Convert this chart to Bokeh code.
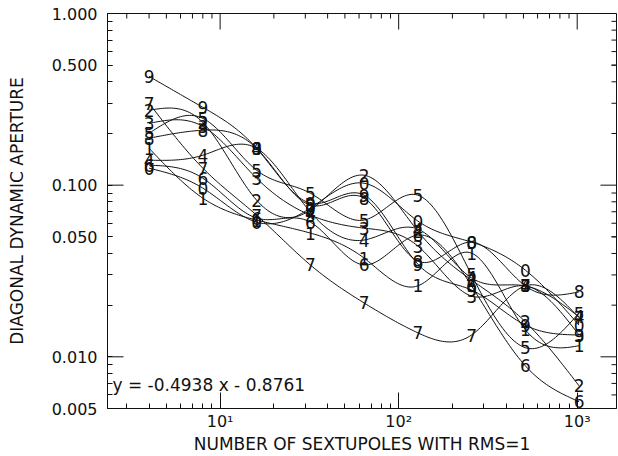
import numpy as np
from bokeh.plotting import figure
from bokeh.models import (FixedTicker, ColumnDataSource, Range1d, Label,
                          PrintfTickFormatter)
from bokeh.embed import file_html
from bokeh.resources import INLINE
from bokeh.core.properties import value

# ---- data -------------------------------------------------------------
n_sext = [4, 8, 16, 32, 64, 128, 256, 512, 1024]

s0 = [0.1256, 0.0961, 0.0609, 0.0735, 0.1027, 0.0618, 0.0466, 0.0320, 0.0153]
s1 = [0.164, 0.0840, 0.0626, 0.0526, 0.0376, 0.0259, 0.0402, 0.0144, 0.0116]
s2 = [0.273, 0.232, 0.0818, 0.0716, 0.1143, 0.0540, 0.0280, 0.0160, 0.00678]
s3 = [0.229, 0.220, 0.1098, 0.0669, 0.0562, 0.0442, 0.0226, 0.0259, 0.0134]
s4 = [0.1398, 0.1494, 0.164, 0.0697, 0.0479, 0.0555, 0.0288, 0.0259, 0.0171]
s5 = [0.2005, 0.245, 0.1222, 0.0898, 0.0626, 0.0875, 0.0300, 0.0113, 0.0180]
s6 = [0.1307, 0.1098, 0.0643, 0.0609, 0.0343, 0.0512, 0.0259, 0.00887, 0.00548]
s7 = [0.300, 0.1256, 0.0669, 0.0343, 0.0206, 0.0138, 0.0134, 0.0259, 0.0169]
s8 = [0.1877, 0.209, 0.164, 0.0765, 0.0840, 0.0361, 0.0466, 0.0259, 0.0239]
s9 = [0.430, 0.284, 0.164, 0.0786, 0.0875, 0.0347, 0.0245, 0.0153, 0.0134]

series_labels = ["0", "1", "2", "3", "4", "5", "6", "7", "8", "9"]
series_values = [s0, s1, s2, s3, s4, s5, s6, s7, s8, s9]

y_ticks = [0.005, 0.01, 0.05, 0.1, 0.5, 1.0]
y_decades = [0.01, 0.1, 1.0]
x_ticks = [10, 100, 1000]
x_tick_labels = ["10\u00b9", "10\u00b2", "10\u00b3"]
fit_text = "y = -0.4938 x - 0.8761"

X_MIN, X_MAX = 2.34, 1660.0
Y_MIN, Y_MAX = 0.005, 1.0

# ---- smooth curve (natural cubic spline in log-log space) ---------------
def spline(xs, ys, per=24):
    x = np.log10(np.asarray(xs, float))
    y = np.log10(np.asarray(ys, float))
    n = len(x)
    h = np.diff(x)
    A = np.zeros((n, n))
    r = np.zeros(n)
    A[0, 0] = A[-1, -1] = 1.0
    for i in range(1, n - 1):
        A[i, i - 1] = h[i - 1]
        A[i, i] = 2 * (h[i - 1] + h[i])
        A[i, i + 1] = h[i]
        r[i] = 6 * ((y[i + 1] - y[i]) / h[i] - (y[i] - y[i - 1]) / h[i - 1])
    M = np.linalg.solve(A, r)
    xo, yo = [], []
    for i in range(n - 1):
        t = np.linspace(x[i], x[i + 1], per, endpoint=(i == n - 2))
        a = x[i + 1] - t
        b = t - x[i]
        s = (M[i] * a ** 3 / (6 * h[i]) + M[i + 1] * b ** 3 / (6 * h[i])
             + (y[i] / h[i] - M[i] * h[i] / 6) * a
             + (y[i + 1] / h[i] - M[i + 1] * h[i] / 6) * b)
        xo.extend(t)
        yo.extend(s)
    return 10 ** np.array(xo), 10 ** np.array(yo)

# ---- figure -------------------------------------------------------------
FONT = "DejaVu Sans"
INK = "#111111"

p = figure(width=618, height=456, x_axis_type="log", y_axis_type="log",
           x_range=Range1d(X_MIN, X_MAX), y_range=Range1d(Y_MIN, Y_MAX),
           output_backend="svg", toolbar_location=None,
           min_border_left=107, min_border_right=2, min_border_top=13,
           min_border_bottom=47)
p.grid.visible = False
p.outline_line_color = INK
p.outline_line_width = 1
p.background_fill_color = "white"

x_minor = [m * d for d in (1, 10, 100) for m in range(2, 10) if X_MIN < m * d < X_MAX]
y_minor = [m * d for d in (0.001, 0.01, 0.1) for m in range(2, 10) if Y_MIN < m * d < Y_MAX]
y_short = [v for v in y_ticks if v not in y_decades] + y_minor

xa = p.xaxis[0]
xa.ticker = FixedTicker(ticks=x_ticks, minor_ticks=x_minor)
xa.major_label_overrides = {float(t): s for t, s in zip(x_ticks, x_tick_labels)}
xa.major_tick_in = 16
xa.major_tick_out = 0
xa.minor_tick_in = 5
xa.minor_tick_out = 0
xa.axis_line_color = INK
xa.major_tick_line_color = INK
xa.minor_tick_line_color = INK
xa.major_label_text_font = FONT
xa.major_label_text_font_size = "16px"
xa.major_label_text_color = INK
xa.major_label_standoff = 3
xa.axis_label = "NUMBER OF SEXTUPOLES WITH RMS=1"
xa.axis_label_text_font = FONT
xa.axis_label_text_font_size = "17px"
xa.axis_label_text_font_style = "normal"
xa.axis_label_text_color = INK
xa.axis_label_standoff = 0

ya = p.yaxis[0]
ya.ticker = FixedTicker(ticks=y_ticks, minor_ticks=y_minor)
ya.formatter = PrintfTickFormatter(format="%.3f")
ya.major_tick_in = 5
ya.major_tick_out = 0
ya.minor_tick_in = 5
ya.minor_tick_out = 0
ya.axis_line_color = INK
ya.major_tick_line_color = INK
ya.minor_tick_line_color = INK
ya.major_label_text_font = FONT
ya.major_label_text_font_size = "16px"
ya.major_label_text_color = INK
ya.major_label_standoff = 10
ya.axis_label = "DIAGONAL DYNAMIC APERTURE"
ya.axis_label_text_font = FONT
ya.axis_label_text_font_size = "17px"
ya.axis_label_text_font_style = "normal"
ya.axis_label_text_color = INK
ya.axis_label_standoff = 22

# long decade ticks on the left, mirrored ticks on the right and top
p.ray(x=[X_MIN] * len(y_decades), y=y_decades, length=16, length_units="screen",
      angle=0, line_color=INK, line_width=1)
p.ray(x=[X_MAX] * len(y_decades), y=y_decades, length=16, length_units="screen",
      angle=np.pi, line_color=INK, line_width=1)
p.ray(x=[X_MAX] * len(y_short), y=y_short, length=5, length_units="screen",
      angle=np.pi, line_color=INK, line_width=1)
p.ray(x=x_ticks, y=[Y_MAX] * len(x_ticks), length=16, length_units="screen",
      angle=-np.pi / 2, line_color=INK, line_width=1)
p.ray(x=x_minor, y=[Y_MAX] * len(x_minor), length=5, length_units="screen",
      angle=-np.pi / 2, line_color=INK, line_width=1)

# curves
for lab, vals in zip(series_labels, series_values):
    xs, ys = spline(n_sext, vals)
    p.line(xs, ys, line_color=INK, line_width=1)

# digit markers
mx, my, mt = [], [], []
for lab, vals in zip(series_labels, series_values):
    for xv, yv in zip(n_sext, vals):
        mx.append(xv)
        my.append(yv)
        mt.append(lab)
src = ColumnDataSource(dict(x=mx, y=my, t=mt))
p.text(x="x", y="y", text="t", source=src, text_font=value(FONT),
       text_font_size="17px", text_align="center", text_baseline="middle",
       text_color=INK)

p.add_layout(Label(x=5, y=24, x_units="screen", y_units="screen", text=fit_text,
                   text_font=FONT, text_font_size="17px", text_color=INK,
                   text_baseline="middle"))

open("out.html", "w").write(file_html(p, INLINE))
